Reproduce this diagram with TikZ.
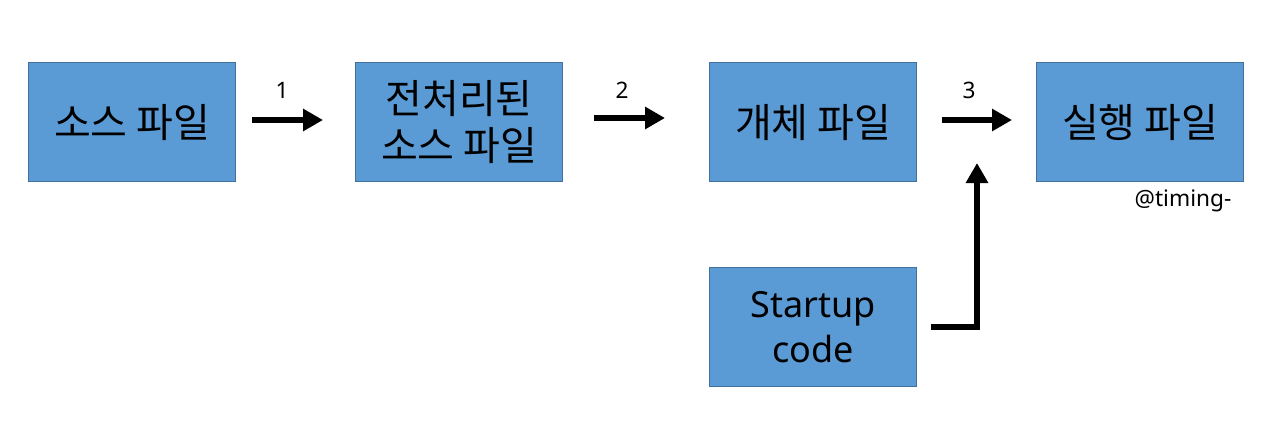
\documentclass[tikz,border=0pt]{standalone}
\usepackage{fontspec}
\setmainfont{Noto Sans}
\newfontfamily\cjk{Noto Sans CJK KR}
\usetikzlibrary{arrows.meta}
\definecolor{boxfill}{HTML}{5B9BD5}
\definecolor{boxline}{HTML}{41719C}
\begin{document}
\begin{tikzpicture}[x=0.75pt,y=-0.75pt]
\tikzset{
  procbox/.style={draw=boxline,line width=0.9pt,fill=boxfill,minimum width=207*0.75pt,minimum height=119*0.75pt,inner sep=0pt,align=center,font=\fontsize{27}{34}\selectfont,anchor=north west},
  krbox/.style={procbox,font=\cjk\fontsize{30}{35}\selectfont},
  flowarrow/.style={line width=3.8pt,-{Triangle[length=15pt,width=16pt]}},
  steplabel/.style={font=\fontsize{17}{20}\selectfont}
}
\useasboundingbox[fill=white] (0,0) rectangle (1271,432);
\node[krbox] (src) at (28,62) {소스 파일};
\node[krbox] (pre) at (355,62) {전처리된\\소스 파일};
\node[krbox] (obj) at (709,62) {개체 파일};
\node[krbox] (exe) at (1036,62) {실행 파일};
\node[procbox] (start) at (709,267) {Startup\\code};
\coordinate (a1s) at (252,120);
\coordinate (a1e) at (323,120);
\coordinate (a2s) at (594,118);
\coordinate (a2e) at (665,118);
\coordinate (a3s) at (942,120);
\coordinate (a3e) at (1012,120);
\draw[flowarrow] (a1s) -- (a1e);
\draw[flowarrow] (a2s) -- (a2e);
\draw[flowarrow] (a3s) -- (a3e);
\coordinate (s0) at (931,327);
\coordinate (s1) at (977,327);
\coordinate (s2) at (977,163);
\draw[flowarrow] (s0) -- (s1) -- (s2);
\node[steplabel] (l1) at (282,90) {1};
\node[steplabel] (l2) at (622,90) {2};
\node[steplabel] (l3) at (969,90) {3};
\node[font=\fontsize{17}{20}\selectfont] (tag) at (1183,201) {@timing-};
\end{tikzpicture}
\end{document}
